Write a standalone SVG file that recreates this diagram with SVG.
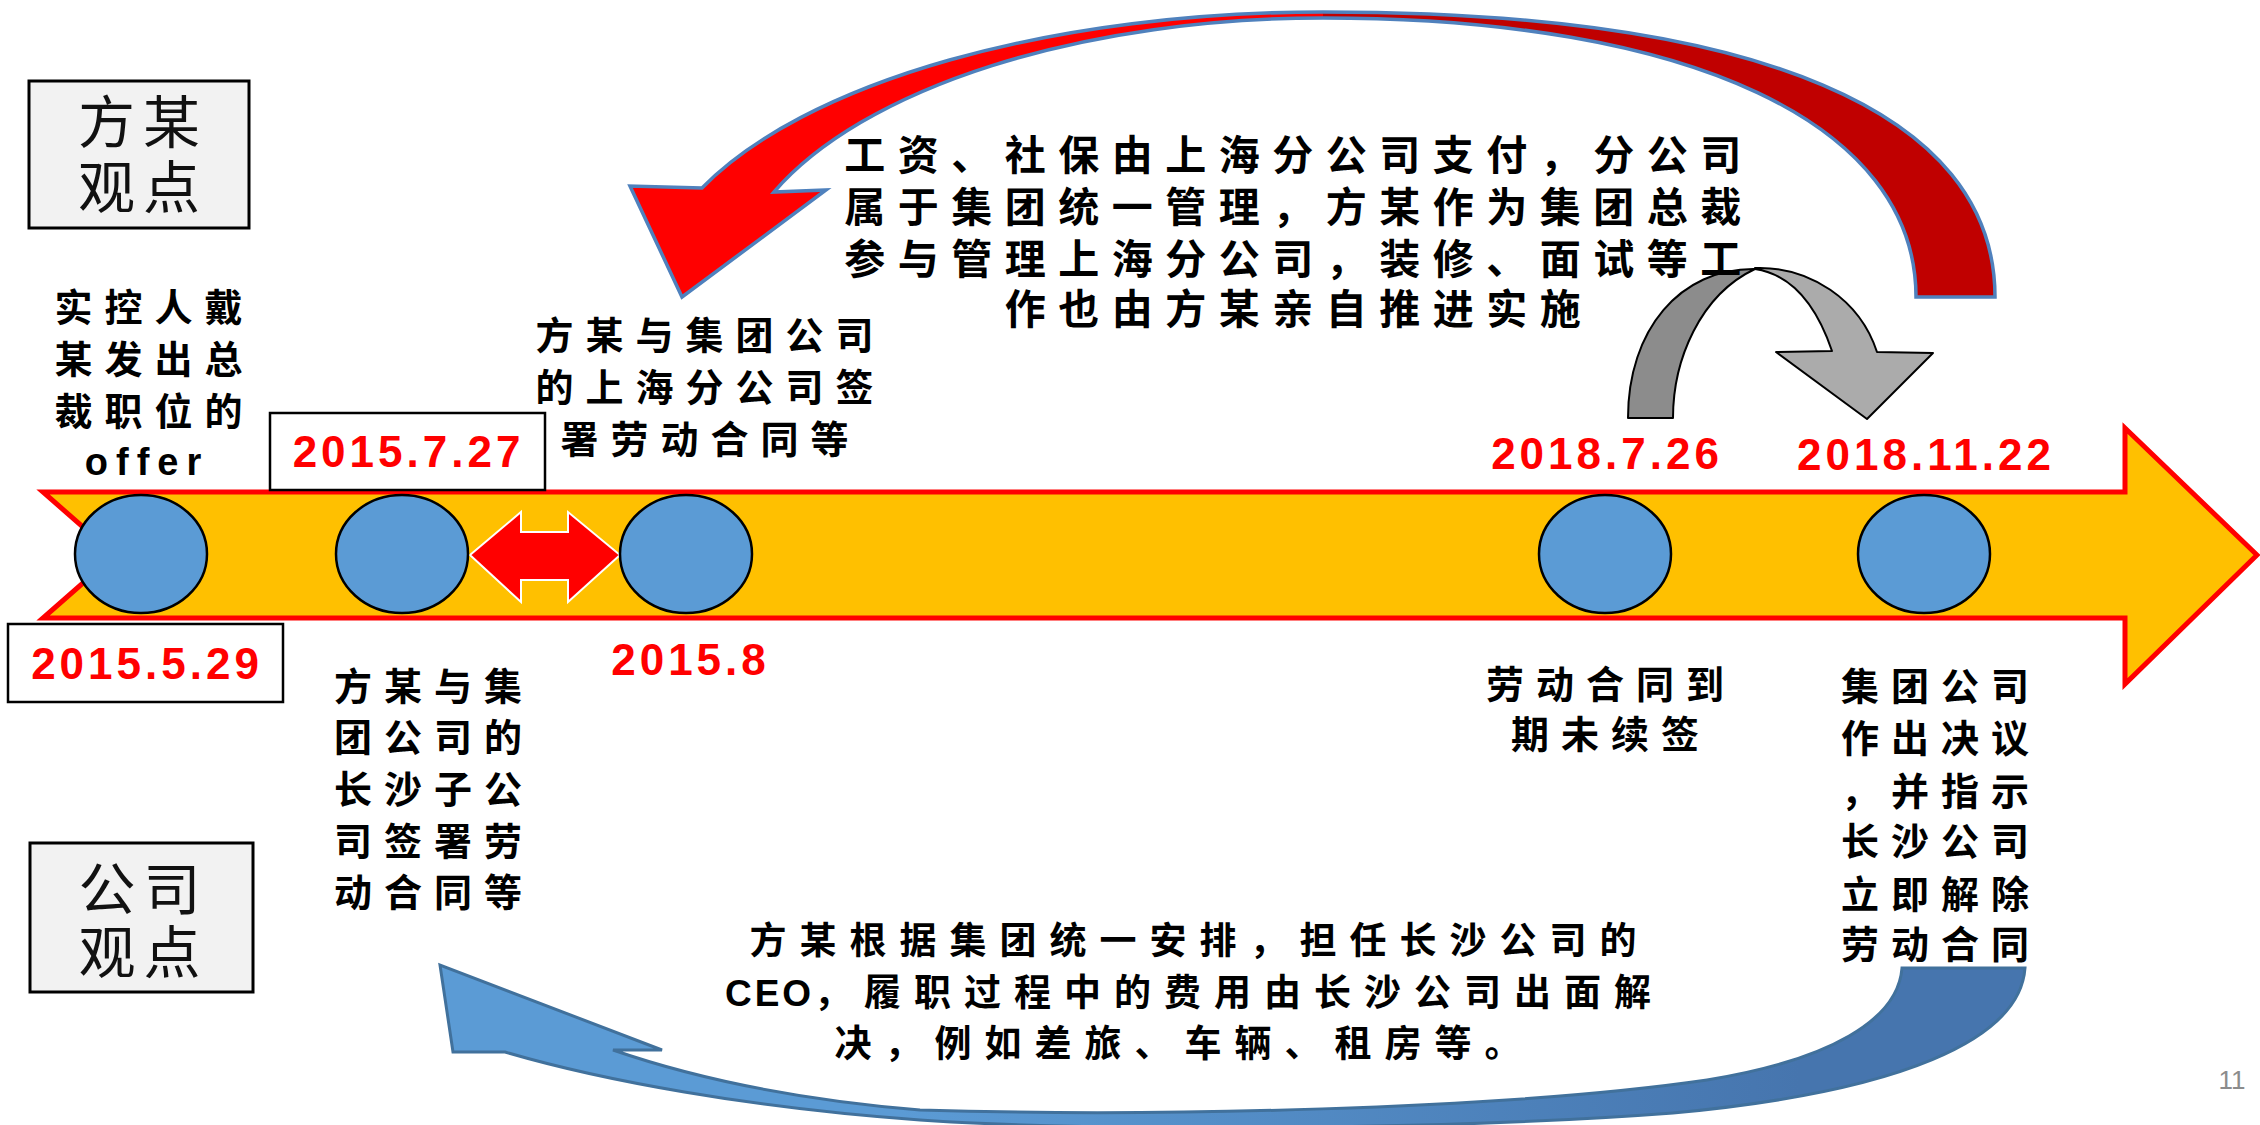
<svg xmlns="http://www.w3.org/2000/svg" width="2260" height="1125" viewBox="0 0 2260 1125">
<defs>
<style>
.cn{font-family:"Liberation Sans","Noto Sans CJK SC",sans-serif;font-weight:700;font-size:38px;letter-spacing:12px;fill:#000;text-anchor:middle}
.big{font-size:41px;letter-spacing:12.5px}
.bot{font-size:37px;letter-spacing:13px}
.tight{letter-spacing:3px}
.mid{letter-spacing:8px}
.lbl{font-family:"Liberation Sans","Noto Sans CJK SC",sans-serif;font-weight:400;font-size:57px;letter-spacing:8px;text-anchor:middle;fill:#111}
.date{font-family:"Liberation Sans",Arial,sans-serif;font-weight:700;font-size:44px;letter-spacing:4px;fill:#FF0000;text-anchor:middle}
.box{fill:#FFFFFF;stroke:#000;stroke-width:2.5}
.vbox{fill:#F2F2F2;stroke:#000;stroke-width:3}
.dot{fill:#5B9BD5;stroke:#000;stroke-width:2.5}
.gray{stroke:#000;stroke-width:2;stroke-linejoin:round}
</style>
<linearGradient id="blueGrad" gradientUnits="userSpaceOnUse" x1="900" y1="0" x2="1800" y2="0">
<stop offset="0" stop-color="#5B9BD5"/>
<stop offset="1" stop-color="#4675AE"/>
</linearGradient>
</defs>
<rect x="0" y="0" width="2260" height="1125" fill="#FFFFFF"/>

<g id="timeline">
<path d="M43,492 L2125,492 L2125,428 L2257,555 L2125,684 L2125,618 L43,618 L115,555 Z" fill="#FFC000" stroke="#FF0000" stroke-width="5"/>
</g>

<g id="connectors">
<g id="red-curved-arrow">
<path fill="#FF0000" d="M1323,12 A672,285 0 0 0 702,188 L630,186 L682,297 L826,190 L774,192 A593,279 0 0 1 1323,18 Z"/>
<path fill="#C00000" d="M1323,12 C1760,12 1995,112 1995,297 L1916,297 C1916,124 1691,18 1323,18 Z"/>
<path fill="none" stroke="#4F81BD" stroke-width="3.5" stroke-linejoin="miter" d="M1995,297 C1995,112 1760,12 1323,12 A672,285 0 0 0 702,188 L630,186 L682,297 L826,190 L774,192 A593,279 0 0 1 1323,18 C1691,18 1916,124 1916,297 Z"/>
</g>
<g id="gray-curved-arrow">
<path class="gray" fill="#8C8C8C" d="M1628,418 L1673,418 C1673,360 1700,295 1755,269 C1680,268 1628,330 1628,418 Z"/>
<path class="gray" fill="#ABABAB" d="M1755,268 C1810,266 1860,300 1877,352 L1933,353 L1867,419 L1776,352 L1832,351 C1818,310 1795,275 1755,269 Z"/>
</g>
<g id="blue-curved-arrow">
<path fill="url(#blueGrad)" stroke="#41719C" stroke-width="3" d="M2025,968 C2020,1040 1900,1092 1673,1113 C1450,1130 1100,1132 920,1120 C750,1108 600,1080 505,1052 L453,1052 L440,965 L662,1050 L613,1050 C700,1080 800,1100 920,1110 C1150,1117 1500,1110 1707,1080 C1830,1060 1898,1020 1902,968 Z"/>
</g>
<g id="double-arrow">
<path fill="#FF0000" stroke="#FFFFFF" stroke-width="2" d="M470,555 L521,512 L521,532 L568,532 L568,512 L620,555 L568,602 L568,580 L521,580 L521,602 Z"/>
</g>
</g>

<g id="event-2015-05-29">
<ellipse class="dot" cx="141" cy="554" rx="66" ry="59"/>
<rect class="box" x="8" y="624" width="275" height="78"/>
<text class="date" x="147" y="679">2015.5.29</text>
</g>
<g id="event-2015-07-27">
<ellipse class="dot" cx="402" cy="554" rx="66" ry="59"/>
<rect class="box" x="270" y="413" width="275" height="77"/>
<text class="date" x="408.5" y="467">2015.7.27</text>
</g>
<g id="event-2015-08">
<ellipse class="dot" cx="686" cy="554" rx="66" ry="59"/>
<text class="date" x="690.5" y="675">2015.8</text>
</g>
<g id="event-2018-07-26">
<ellipse class="dot" cx="1605" cy="554" rx="66" ry="59"/>
<text class="date" x="1607" y="469">2018.7.26</text>
</g>
<g id="event-2018-11-22">
<ellipse class="dot" cx="1924" cy="554" rx="66" ry="59"/>
<text class="date" x="1926" y="470">2018.11.22</text>
</g>

<g id="view-fang">
<rect class="vbox" x="29" y="81" width="220" height="147"/>
<text class="lbl"><tspan x="143" y="143">方某</tspan><tspan x="143" y="208">观点</tspan></text>
</g>
<g id="view-company">
<rect class="vbox" x="30" y="843" width="223" height="149"/>
<text class="lbl"><tspan x="143.5" y="910">公司</tspan><tspan x="143.5" y="973">观点</tspan></text>
</g>

<g id="note-offer">
<text class="cn"><tspan x="154.5" y="321">实控人戴</tspan><tspan x="154.5" y="373">某发出总</tspan><tspan x="154.5" y="425">裁职位的</tspan><tspan class="mid" x="147" y="475">offer</tspan></text>
</g>
<g id="note-shanghai">
<text class="cn"><tspan x="710.5" y="349">方某与集团公司</tspan><tspan x="710.5" y="401">的上海分公司签</tspan><tspan x="710.5" y="453">署劳动合同等</tspan></text>
</g>
<g id="note-fang-view">
<text class="cn big"><tspan x="1299" y="170">工资、社保由上海分公司支付，分公司</tspan><tspan x="1299" y="222">属于集团统一管理，方某作为集团总裁</tspan><tspan x="1299" y="274">参与管理上海分公司，装修、面试等工</tspan><tspan x="1299" y="324">作也由方某亲自推进实施</tspan></text>
</g>
<g id="note-changsha">
<text class="cn"><tspan x="434" y="700">方某与集</tspan><tspan x="434" y="751">团公司的</tspan><tspan x="434" y="803">长沙子公</tspan><tspan x="434" y="855">司签署劳</tspan><tspan x="434" y="906">动合同等</tspan></text>
</g>
<g id="note-expiry">
<text class="cn"><tspan x="1611" y="698">劳动合同到</tspan><tspan x="1611" y="748">期未续签</tspan></text>
</g>
<g id="note-resolution">
<text class="cn"><tspan x="1941" y="700">集团公司</tspan><tspan x="1941" y="752">作出决议</tspan><tspan x="1941" y="805">，并指示</tspan><tspan x="1941" y="855">长沙公司</tspan><tspan x="1941" y="908">立即解除</tspan><tspan x="1941" y="958">劳动合同</tspan></text>
</g>
<g id="note-company-view">
<text class="cn bot"><tspan x="1199.5" y="954">方某根据集团统一安排，担任长沙公司的</tspan><tspan x="1194.5" y="1006"><tspan class="tight">CEO</tspan>，履职过程中的费用由长沙公司出面解</tspan><tspan x="1184.5" y="1057">决，例如差旅、车辆、租房等。</tspan></text>
</g>

<g id="page-number">
<text x="2232" y="1089" font-family="Liberation Sans, Arial, sans-serif" font-size="26" fill="#8C8C8C" text-anchor="middle">11</text>
</g>
</svg>
